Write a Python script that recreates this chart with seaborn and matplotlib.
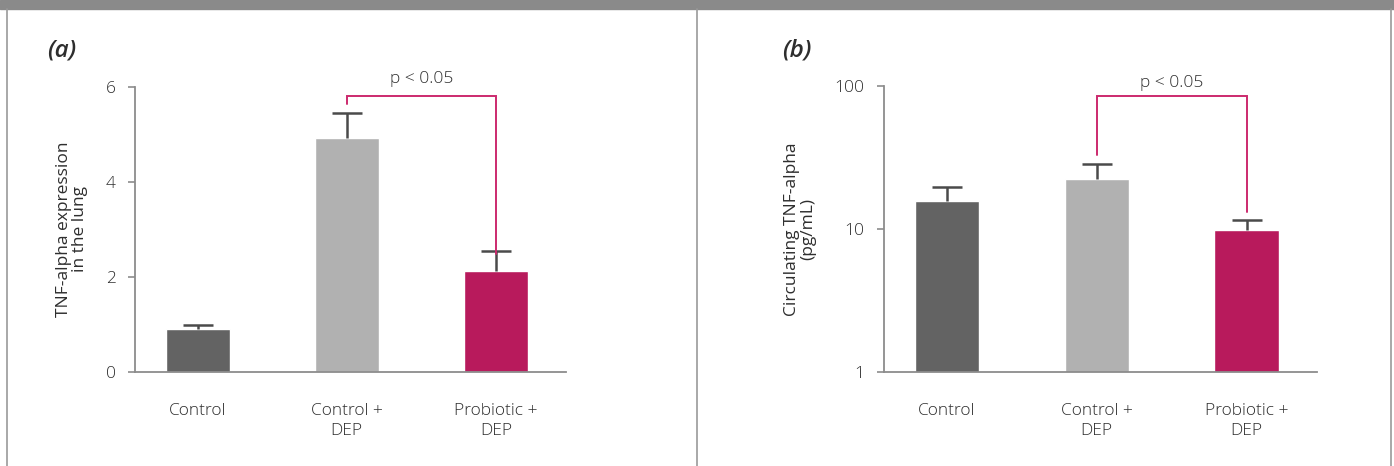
import matplotlib
matplotlib.use("Agg")
import matplotlib.pyplot as plt
from matplotlib.lines import Line2D
import seaborn as sns
import pandas as pd

# Treatment groups
groups = ["Control", "Control +\nDEP", "Probiotic +\nDEP"]
bar_colors = ["#636363", "#b1b1b1", "#b81a5c"]

# (a) TNF-alpha expression in the lung
lung_mean = [0.9, 4.92, 2.12]
lung_err = [0.09, 0.53, 0.42]
lung_ticks = [0, 2, 4, 6]

# (b) Circulating TNF-alpha (pg/mL)
serum_mean = [15.7, 22.4, 9.8]
serum_err = [3.9, 6.1, 1.8]
serum_ticks = [1, 10, 100]

p_text = "p < 0.05"

sns.set_theme(style="white")
plt.rcParams["font.family"] = ["Open Sans", "DejaVu Sans"]
plt.rcParams["font.weight"] = "light"

TEXT = "#2e2e2e"
AXIS = "#8c8c8c"
BRACKET = "#cc2a6e"
W, H = 1394, 466
FS = 12.5

fig = plt.figure(figsize=(W / 100, H / 100), dpi=100)


def px_axes(left, right, top, bottom):
    return fig.add_axes([left / W, (H - bottom) / H, (right - left) / W, (bottom - top) / H])


def draw_panel(ax, means, errs, ylabel):
    df = pd.DataFrame({"group": groups, "value": means})
    sns.barplot(data=df, x="group", y="value", hue="group", palette=bar_colors,
                width=0.43, errorbar=None, legend=False, ax=ax, saturation=1)
    # upper-only error bars
    _, caps, _ = ax.errorbar(range(len(means)), means, yerr=[[0] * len(means), errs],
                             fmt="none", ecolor="#4a4a4a", elinewidth=1.8,
                             capsize=11, capthick=1.8, zorder=3)
    caps[0].set_visible(False)
    ax.set_xlim(-0.42, 2.47)
    ax.set_xlabel("")
    ax.set_ylabel(ylabel, fontsize=FS, color=TEXT, labelpad=13, linespacing=1.0)
    for side in ("top", "right"):
        ax.spines[side].set_visible(False)
    for side in ("left", "bottom"):
        ax.spines[side].set_color(AXIS)
        ax.spines[side].set_linewidth(1.3)
    ax.tick_params(axis="x", length=0, pad=22, labelsize=FS, labelcolor=TEXT)
    ax.tick_params(axis="y", which="major", left=True, length=5, width=1.2, color=AXIS,
                   pad=9, labelsize=FS, labelcolor=TEXT)
    ax.tick_params(axis="y", which="minor", left=False)
    for lbl in ax.get_xticklabels():
        lbl.set_linespacing(1.4)
    ax.set_facecolor("none")


def bracket(ax, x0, x1, y0, y1, ytop):
    ax.plot([x0, x0, x1, x1], [y0, ytop, ytop, y1], color=BRACKET, lw=1.4,
            solid_joinstyle="miter", clip_on=False, zorder=4)


# Panel (a)
ax_a = px_axes(135, 566, 87, 372)
draw_panel(ax_a, lung_mean, lung_err, "TNF-alpha expression\nin the lung")
ax_a.set_ylim(0, 6)
ax_a.set_yticks(lung_ticks)
ax_a.set_yticklabels([str(t) for t in lung_ticks])
top_a = 5.81
bracket(ax_a, 1, 2, lung_mean[1] + lung_err[1] + 0.2, lung_mean[2] + lung_err[2] - 0.05, top_a)
ax_a.text(1.5, top_a + 0.2, p_text, ha="center", va="bottom", fontsize=FS, color=TEXT)

# Panel (b)
ax_b = px_axes(884, 1317, 86, 372)
ax_b.set_yscale("log")
draw_panel(ax_b, serum_mean, serum_err, "Circulating TNF-alpha\n(pg/mL)")
ax_b.set_ylim(1, 100)
ax_b.set_yticks(serum_ticks)
ax_b.set_yticklabels([str(t) for t in serum_ticks])
ax_b.minorticks_off()
top_b = 85
bracket(ax_b, 1, 2, 32.9, 13.1, top_b)
ax_b.text(1.5, top_b * 1.08, p_text, ha="center", va="bottom", fontsize=FS, color=TEXT)

# Panel letters
fig.text(47 / W, 1 - 50 / H, "(a)", fontsize=17.5, style="italic", weight="semibold",
         color=TEXT, ha="left", va="center")
fig.text(782 / W, 1 - 50 / H, "(b)", fontsize=17.5, style="italic", weight="semibold",
         color=TEXT, ha="left", va="center")

# Frame: top band and panel dividers
fig.patches.append(plt.Rectangle((0, 1 - 9 / H), 1, 9 / H, transform=fig.transFigure,
                                 color="#8a8a8a", zorder=0))
for xp in (7, 697, 1391):
    fig.lines.append(Line2D([xp / W, xp / W], [0, 1 - 9 / H], transform=fig.transFigure,
                            color="#9a9a9a", lw=1.2))

fig.savefig("out.png", dpi=100, facecolor="white")
